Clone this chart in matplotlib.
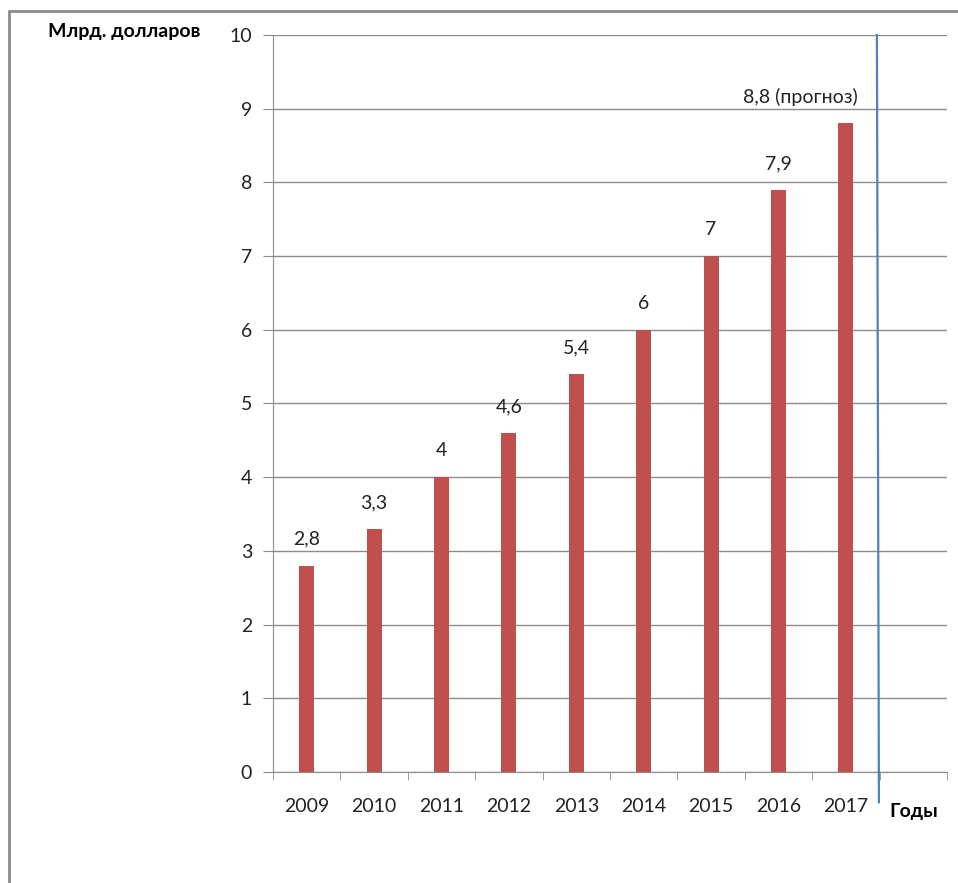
import numpy as np
import matplotlib.pyplot as plt
from matplotlib.patches import Rectangle
from matplotlib.lines import Line2D

years = ['2009', '2010', '2011', '2012', '2013', '2014', '2015', '2016', '2017']
values = [2.8, 3.3, 4.0, 4.6, 5.4, 6.0, 7.0, 7.9, 8.8]
value_labels = ['2,8', '3,3', '4', '4,6', '5,4', '6', '7', '7,9', '8,8 (прогноз)']

plt.rcParams['font.family'] = ['Lato', 'DejaVu Sans']

fig = plt.figure(figsize=(9.58, 8.83), dpi=100)
ax = fig.add_axes([273 / 958, 1 - 772 / 883, 674 / 958, 737 / 883])

# outer frame of the chart area
fig.patches.append(Rectangle((9 / 958, -0.1), 1.2, 1 - 11 / 883 + 0.1,
                             transform=fig.transFigure, fill=False,
                             edgecolor='#8c8c8c', linewidth=2, zorder=0))

x = np.arange(len(years))
ax.bar(x, values, width=0.22, color='#C0504D', zorder=3)

ax.set_xlim(-0.5, 9.5)
ax.set_ylim(0, 10)
ax.set_yticks(np.arange(0, 11, 1))
ax.yaxis.grid(True, color='#8c8c8c', linewidth=1)
ax.set_axisbelow(True)

for s in ['top', 'right']:
    ax.spines[s].set_visible(False)
ax.spines['left'].set_color('#8c8c8c')
ax.spines['bottom'].set_color('#8c8c8c')

ax.set_xticks(x)
ax.set_xticklabels(years)
ax.set_xticks(np.arange(-0.5, 10, 1), minor=True)
ax.tick_params(axis='x', which='major', length=0, pad=19, labelsize=14, colors='#222222')
ax.tick_params(axis='x', which='minor', length=6, color='#8c8c8c')
ax.tick_params(axis='y', length=7, color='#8c8c8c', pad=8, labelsize=14, labelcolor='#222222')

for i, (v, lab) in enumerate(zip(values, value_labels)):
    dx = -0.68 if i == len(values) - 1 else 0
    ax.annotate(lab, (i + dx, v), xytext=(0, 19), textcoords='offset points',
                ha='center', va='center', fontsize=14, color='#222222')

# vertical divider after the last year
ax.add_line(Line2D([8.46, 8.49], [10, -0.41], color='#4F81BD', linewidth=1.6,
                   clip_on=False, zorder=4))

fig.text(48 / 958, 1 - 31 / 883, 'Млрд. долларов', fontsize=14, fontweight='bold',
         ha='left', va='center')
fig.text(889 / 958, 1 - 812 / 883, 'Годы', fontsize=14, fontweight='bold',
         ha='left', va='center')

fig.savefig('out.png', dpi=100)
